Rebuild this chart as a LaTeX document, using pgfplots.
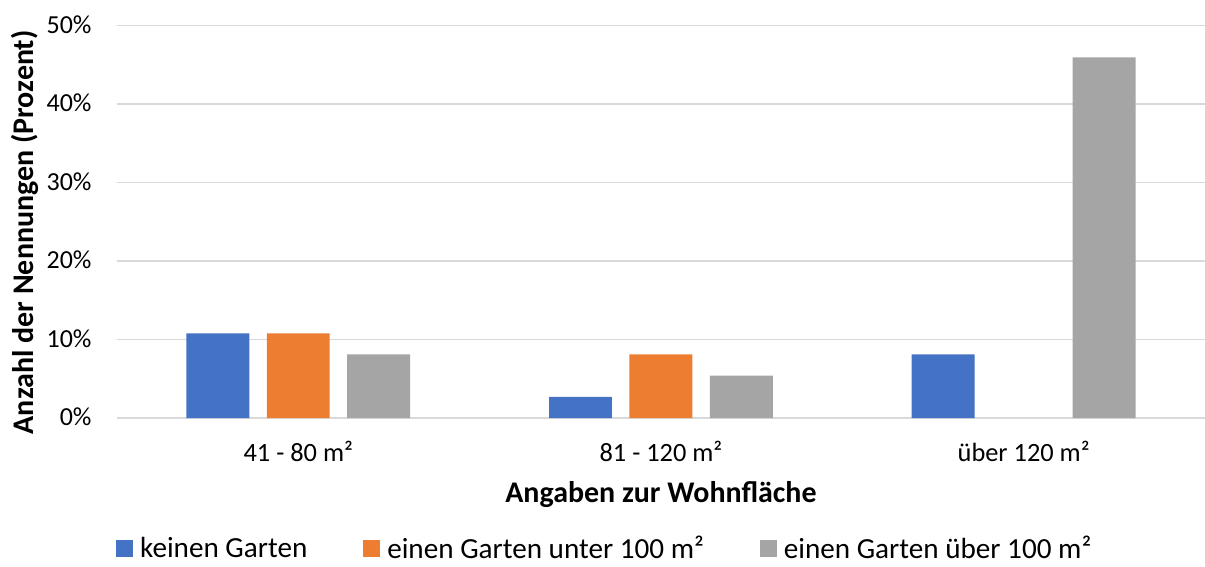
\documentclass[border=0pt]{standalone}
\usepackage{pgfplots}
\pgfplotsset{compat=1.18}
\usepackage{fontspec}
\setmainfont{Carlito}
\definecolor{cblue}{HTML}{4472C4}
\definecolor{corange}{HTML}{ED7D31}
\definecolor{cgray}{HTML}{A5A5A5}
\definecolor{cgrid}{HTML}{D9D9D9}
\begin{document}
\begin{tikzpicture}
\begin{axis}[
  scale only axis,
  width=544.5pt, height=196.4pt,
  xmin=-0.5, xmax=2.5, ymin=0, ymax=50,
  axis line style={draw=none},
  tick style={draw=none},
  major tick length=0pt,
  ymajorgrids,
  grid style={cgrid, line width=0.8pt},
  ytick={0,10,20,30,40,50},
  yticklabel={\pgfmathprintnumber{\tick}\%},
  /pgf/number format/assume math mode=true,
  xtick={0,1,2},
  xticklabels={41 - 80 m², 81 - 120 m², über 120 m²},
  yticklabel style={font=\fontsize{13pt}{15pt}\selectfont, anchor=base east, inner sep=0pt, xshift=-12.5pt, yshift=-3.9pt},
  xticklabel style={font=\fontsize{13.2pt}{15pt}\selectfont, anchor=base, inner sep=0pt, yshift=-21.75pt},
  xlabel={Angaben zur Wohnfläche},
  ylabel={Anzahl der Nennungen (Prozent)},
  xlabel style={font=\bfseries\fontsize{15pt}{17pt}\selectfont, at={(axis description cs:0.5,0)}, anchor=base, inner sep=0pt, yshift=-42pt},
  ylabel style={font=\bfseries\fontsize{15pt}{17pt}\selectfont, at={(axis description cs:-0.0771,0.4735)}, anchor=base, inner sep=0pt},
  legend columns=3,
  legend style={at={(axis description cs:-0.001,-0.366)}, anchor=south west, draw=none, inner sep=0pt,
    font=\fontsize{14.6pt}{16pt}\selectfont,
    nodes={inner sep=0pt},
    /tikz/every odd column/.append style={column sep=3.5pt},
    /tikz/every even column/.append style={column sep=28pt}},
  legend image code/.code={\fill[#1] (0pt,-4.4pt) rectangle (8.5pt,4.1pt);},
]
\addplot[ybar, bar width=0.1736, bar shift=-0.2218, fill=cblue, draw=none] coordinates {(0,10.81) (1,2.70) (2,8.11)};
\addlegendentry{keinen Garten}
\addplot[ybar, bar width=0.1736, bar shift=0, fill=corange, draw=none] coordinates {(0,10.81) (1,8.11)};
\addlegendentry{einen Garten unter 100 m²}
\addplot[ybar, bar width=0.1736, bar shift=0.2218, fill=cgray, draw=none] coordinates {(0,8.11) (1,5.41) (2,45.95)};
\addlegendentry{einen Garten über 100 m²}
\end{axis}
\pgfresetboundingbox
\path (current axis.south west) ++(-58.5pt,-74.25pt);
\path (current axis.north east) ++(-0.5pt,12.85pt);
\end{tikzpicture}
\end{document}
